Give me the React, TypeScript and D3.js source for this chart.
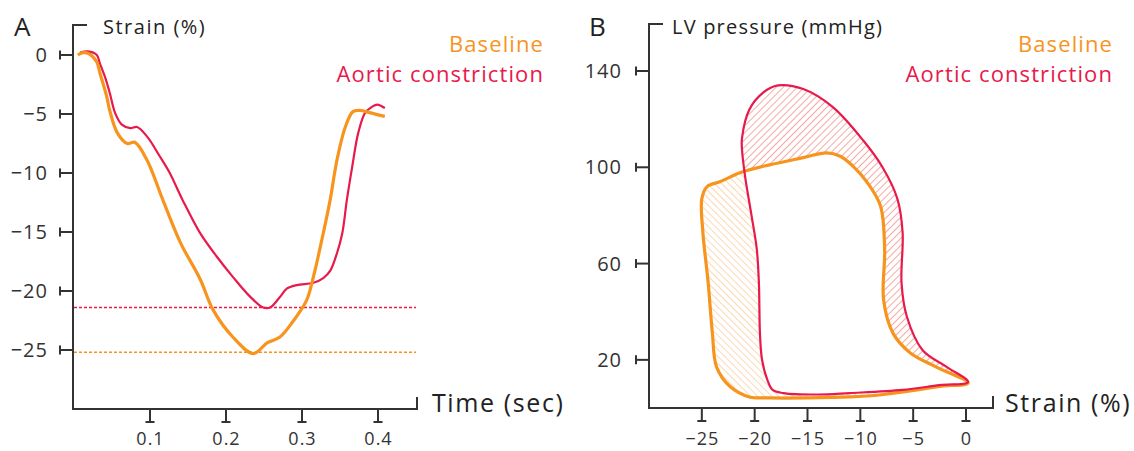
import * as d3 from 'd3';

// Panel A: strain over time
const baseTime = [0.005, 0.012, 0.02, 0.03, 0.034, 0.043, 0.047, 0.057, 0.07, 0.08, 0.096, 0.117, 0.14, 0.166, 0.183, 0.209, 0.236, 0.254, 0.271, 0.289, 0.306, 0.315, 0.328, 0.337, 0.346, 0.357, 0.367, 0.376, 0.39, 0.409];
const baseStrain = [0, 0.2, 0.1, -0.6, -1.5, -3.5, -4.7, -6.6, -7.5, -7.4, -8.9, -12.3, -15.9, -19, -21.6, -23.9, -25.3, -24.4, -23.9, -22.5, -20.8, -18.8, -15.1, -12.3, -8.9, -6.1, -4.8, -4.7, -4.9, -5.2];

const acTime = [0.008, 0.018, 0.03, 0.034, 0.041, 0.047, 0.054, 0.063, 0.074, 0.083, 0.096, 0.113, 0.126, 0.143, 0.166, 0.188, 0.209, 0.232, 0.249, 0.258, 0.271, 0.28, 0.293, 0.315, 0.328, 0.337, 0.346, 0.353, 0.359, 0.366, 0.374, 0.383, 0.392, 0.399, 0.409];
const acStrain = [0.2, 0.3, 0, -0.7, -1.9, -3.2, -4.9, -5.9, -6.2, -6.1, -6.9, -8.6, -10, -12.3, -15.1, -17.1, -18.8, -20.5, -21.4, -21.4, -20.5, -19.8, -19.5, -19.3, -18.9, -18.3, -16.8, -15.1, -12.3, -9.5, -6.6, -4.9, -4.4, -4.2, -4.5];

const peakBase = -25.2;
const peakAc = -21.4;

const timeTicks = [0.1, 0.2, 0.3, 0.4];
const strainTicks = [0, -5, -10, -15, -20, -25];

// Panel B: pressure-strain loops
const loopBaseStrain = [0.2, -2.5, -4.6, -8, -11, -15, -18.6, -20.5, -22.3, -23.6, -24, -24.4, -24.9, -25, -24.5, -23.3, -21.2, -18.6, -15.4, -13.2, -11.9, -10.7, -9.4, -8.1, -7.7, -7.8, -6.9, -5.3, -2.8];
const loopBasePressure = [10.4, 9, 7.5, 5.5, 4.6, 4.2, 4.2, 4.6, 8.8, 17, 31, 52, 73, 87, 92, 94, 98, 101, 104, 106, 104.6, 100.5, 94, 84, 66, 45, 31, 23, 17];

const loopAcStrain = [0.2, -1.8, -4.1, -5.6, -6.1, -6, -6.5, -7.9, -9.7, -12.6, -15.4, -17.8, -19.2, -20.5, -21.2, -21.2, -20.9, -20.3, -19.8, -19.6, -19.5, -19.3, -18.8, -18.3, -17.3, -14, -11, -6, -2.5];
const loopAcPressure = [10.8, 17, 24, 38, 52, 73, 87, 100, 111, 125, 132.5, 134, 131, 124, 112, 107.5, 96, 80, 66, 52, 31, 20, 11.7, 7.5, 6.2, 5.6, 6.2, 7.5, 9.5];

const pressureTicks = [20, 60, 100, 140];
const loopStrainTicks = [-25, -20, -15, -10, -5, 0];

const ORANGE = '#F7941D';
const RED = '#E8194B';
const AXIS = '#333';
const FONT = "'Open Sans', sans-serif";

const fmt = (v: number) => (v < 0 ? '\u2212' + Math.abs(v) : String(v));

export default function App() {
  // scales A
  const xA = d3.scaleLinear().domain([0, 0.45]).range([74, 416]);
  const yA = d3.scaleLinear().domain([-30, 0]).range([409, 55]);
  // scales B
  const xB = d3.scaleLinear().domain([-30, 0]).range([649, 966]);
  const yB = d3.scaleLinear().domain([0, 140]).range([408, 71]);

  const lineA = d3.line<[number, number]>()
    .x(d => xA(d[0]))
    .y(d => yA(d[1]))
    .curve(d3.curveCatmullRom.alpha(0.5));

  const loop = d3.line<[number, number]>()
    .x(d => xB(d[0]))
    .y(d => yB(d[1]))
    .curve(d3.curveCatmullRomClosed.alpha(0.5));

  const basePath = lineA(baseTime.map((t, i) => [t, baseStrain[i]])) || '';
  const acPath = lineA(acTime.map((t, i) => [t, acStrain[i]])) || '';
  const loopBase = loop(loopBaseStrain.map((s, i) => [s, loopBasePressure[i]])) || '';
  const loopAc = loop(loopAcStrain.map((s, i) => [s, loopAcPressure[i]])) || '';

  const axisA = { x0: 73, y0: 409, top: 25, right: 417 };
  const axisB = { x0: 649, y0: 408, top: 24, right: 993 };

  const tickStyle = { letterSpacing: '1px' };

  const yTicks = (scale: d3.ScaleLinear<number, number>, ticks: number[], x0: number, labelX: number) =>
    ticks.map(v => {
      const y = scale(v);
      return (
        <g key={'y' + v}>
          <line x1={x0 - 13} x2={x0} y1={y} y2={y} stroke={AXIS} strokeWidth={2} />
          <line x1={x0 - 13} x2={x0 - 13} y1={y - 4.5} y2={y + 4.5} stroke={AXIS} strokeWidth={2} />
          <text x={labelX + 1} y={y + 7} textAnchor="end" fontSize={20} fill={AXIS} style={tickStyle}>{fmt(v)}</text>
        </g>
      );
    });

  const xTicks = (scale: d3.ScaleLinear<number, number>, ticks: number[], y0: number) =>
    ticks.map(v => {
      const x = scale(v);
      return (
        <g key={'x' + v}>
          <line x1={x} x2={x} y1={y0} y2={y0 + 13} stroke={AXIS} strokeWidth={2} />
          <line x1={x - 4.5} x2={x + 4.5} y1={y0 + 13} y2={y0 + 13} stroke={AXIS} strokeWidth={2} />
          <text x={x + 0.5} y={445} textAnchor="middle" fontSize={18} fill={AXIS} style={tickStyle}>{fmt(v)}</text>
        </g>
      );
    });

  return (
    <svg width={1134} height={451} style={{ position: 'absolute', left: 0, top: 0, background: '#fff' }} fontFamily={FONT}>
      <defs>
        <pattern id="hatchO" width={5} height={5} patternUnits="userSpaceOnUse" patternTransform="rotate(-45)">
          <line x1={0} y1={0} x2={0} y2={5} stroke="#F9BE80" strokeWidth={1.2} />
        </pattern>
        <pattern id="hatchR" width={5} height={5} patternUnits="userSpaceOnUse" patternTransform="rotate(45)">
          <line x1={0} y1={0} x2={0} y2={5} stroke="#EE6F62" strokeWidth={1.2} />
        </pattern>
        <mask id="maskO">
          <rect x={0} y={0} width={1134} height={451} fill="black" />
          <path d={loopBase} fill="white" />
          <path d={loopAc} fill="black" />
        </mask>
        <mask id="maskR">
          <rect x={0} y={0} width={1134} height={451} fill="black" />
          <path d={loopAc} fill="white" />
          <path d={loopBase} fill="black" />
        </mask>
      </defs>

      {/* Panel A */}
      <text x={14} y={36} fontSize={26} fill="#222">A</text>
      <path d={`M${axisA.x0 + 14},${axisA.top}H${axisA.x0}V${axisA.y0}H${axisA.right}V${axisA.y0 - 12}`} fill="none" stroke={AXIS} strokeWidth={2} />
      {yTicks(yA, strainTicks, axisA.x0, 47)}
      {xTicks(xA, timeTicks, axisA.y0)}
      <text x={103} y={34} fontSize={20} fill="#222" style={{ letterSpacing: '1.5px' }}>Strain (%)</text>
      <text x={432} y={412} fontSize={25} fill="#222" style={{ letterSpacing: '1.6px' }}>Time (sec)</text>

      <line x1={xA(0)} x2={xA(0.45)} y1={yA(peakAc)} y2={yA(peakAc)} stroke={RED} strokeWidth={1.5} strokeDasharray="3,2" />
      <line x1={xA(0)} x2={xA(0.45)} y1={yA(peakBase)} y2={yA(peakBase)} stroke={ORANGE} strokeWidth={1.5} strokeDasharray="3,2" />
      <path d={acPath} fill="none" stroke={RED} strokeWidth={2.2} />
      <path d={basePath} fill="none" stroke={ORANGE} strokeWidth={3.2} />

      <text x={544} y={52} textAnchor="end" fontSize={22} fill={ORANGE} style={{ letterSpacing: '1.1px' }}>Baseline</text>
      <text x={544} y={82} textAnchor="end" fontSize={22} fill={RED} style={{ letterSpacing: '1.1px' }}>Aortic constriction</text>

      {/* Panel B */}
      <text x={589} y={36} fontSize={26} fill="#222">B</text>
      <path d={`M${axisB.x0 + 14},${axisB.top}H${axisB.x0}V${axisB.y0}H${axisB.right}V${axisB.y0 - 12}`} fill="none" stroke={AXIS} strokeWidth={2} />
      {yTicks(yB, pressureTicks, axisB.x0, 621)}
      {xTicks(xB, loopStrainTicks, axisB.y0)}
      <text x={672} y={34} fontSize={20} fill="#222" style={{ letterSpacing: '1.2px' }}>LV pressure (mmHg)</text>
      <text x={1005} y={412} fontSize={25} fill="#222" style={{ letterSpacing: '1.6px' }}>Strain (%)</text>

      <rect x={640} y={60} width={340} height={350} fill="url(#hatchO)" mask="url(#maskO)" />
      <rect x={640} y={60} width={340} height={350} fill="url(#hatchR)" mask="url(#maskR)" />
      <path d={loopBase} fill="none" stroke={ORANGE} strokeWidth={3.2} strokeLinejoin="round" />
      <path d={loopAc} fill="none" stroke={RED} strokeWidth={2.2} strokeLinejoin="round" />

      <text x={1113} y={52} textAnchor="end" fontSize={22} fill={ORANGE} style={{ letterSpacing: '1.1px' }}>Baseline</text>
      <text x={1113} y={82} textAnchor="end" fontSize={22} fill={RED} style={{ letterSpacing: '1.1px' }}>Aortic constriction</text>
    </svg>
  );
}
